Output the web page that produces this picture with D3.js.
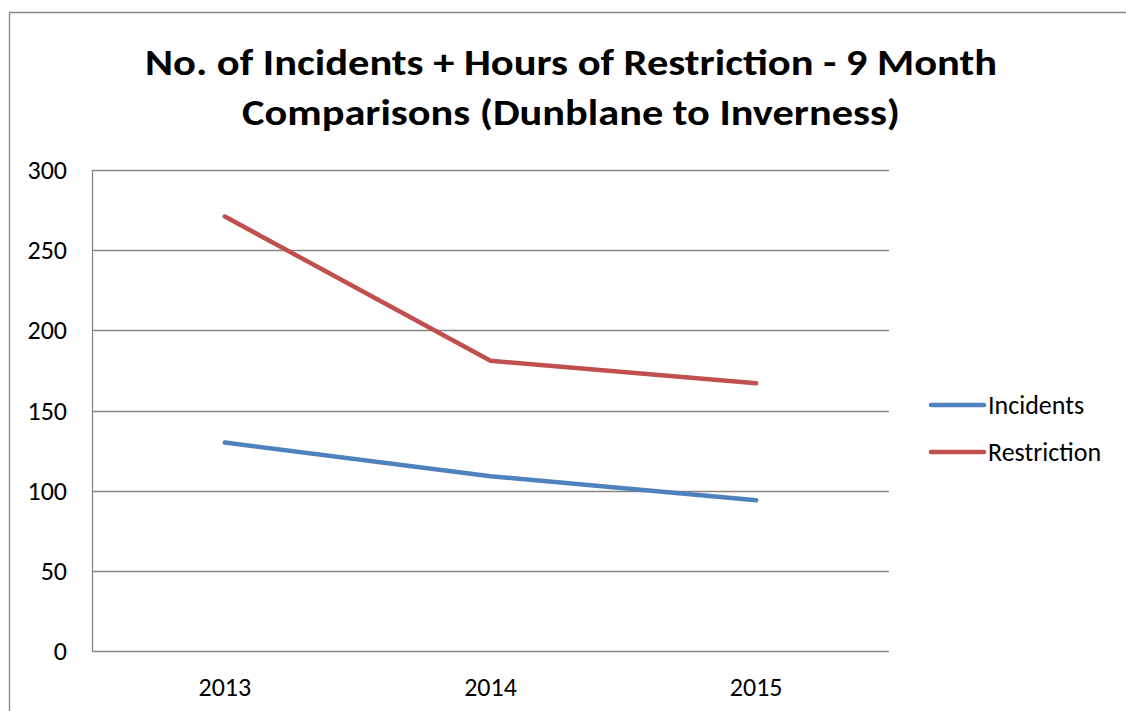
<!DOCTYPE html>
<html>
<head>
<meta charset="utf-8">
<script src="https://cdn.jsdelivr.net/npm/d3@7"></script>
<style>
  body { margin: 0; background: #fff; }
  text { font-family: Carlito, Calibri, "Liberation Sans", "DejaVu Sans", sans-serif; fill: #000; }
</style>
</head>
<body>
<svg id="chart" width="1126" height="711"></svg>
<script>
const years = ['2013', '2014', '2015'];
const incidents = [130, 109, 94];
const restriction = [271, 181, 167];
const yTicks = [0, 50, 100, 150, 200, 250, 300];
const seriesNames = ['Incidents', 'Restriction'];
const seriesColors = ['#4F81BD', '#C0504D'];
const titleLines = ['No. of Incidents + Hours of Restriction - 9 Month', 'Comparisons (Dunblane to Inverness)'];

const svg = d3.select('#chart');
const plot = { left: 92, right: 889, top: 170, bottom: 651 };
const labelSize = 26;

// outer chart frame (runs off the page right and bottom)
svg.append('path')
  .attr('d', 'M9.5,720 L9.5,12.5 L1140,12.5')
  .attr('fill', 'none')
  .attr('stroke', '#868686')
  .attr('stroke-width', 1.3);

// title
const title = svg.append('g');
const titleWidths = [852, 658];
titleLines.forEach((t, i) => {
  title.append('text')
    .attr('x', 571)
    .attr('y', 75 + i * 50)
    .attr('text-anchor', 'middle')
    .attr('font-size', 36)
    .attr('font-weight', 'bold')
    .attr('textLength', titleWidths[i])
    .attr('lengthAdjust', 'spacingAndGlyphs')
    .text(t);
});

const x = d3.scaleBand().domain(years).range([plot.left, plot.right]);
const y = d3.scaleLinear().domain([0, 300]).range([plot.bottom, plot.top]);

// gridlines
svg.append('g')
  .selectAll('line')
  .data(yTicks)
  .join('line')
  .attr('x1', plot.left)
  .attr('x2', plot.right)
  .attr('y1', d => Math.round(y(d)) + 0.5)
  .attr('y2', d => Math.round(y(d)) + 0.5)
  .attr('stroke', '#868686')
  .attr('stroke-width', 1.3);

// left axis line
svg.append('line')
  .attr('x1', plot.left + 0.5)
  .attr('x2', plot.left + 0.5)
  .attr('y1', plot.top)
  .attr('y2', plot.bottom + 1)
  .attr('stroke', '#868686')
  .attr('stroke-width', 1.3);

// y labels
svg.append('g')
  .selectAll('text')
  .data(yTicks)
  .join('text')
  .attr('x', 67)
  .attr('y', d => y(d))
  .attr('dy', '0.35em')
  .attr('text-anchor', 'end')
  .attr('font-size', labelSize)
  .text(d => d);

// x labels
svg.append('g')
  .selectAll('text')
  .data(years)
  .join('text')
  .attr('x', d => x(d) + x.bandwidth() / 2)
  .attr('y', 696)
  .attr('text-anchor', 'middle')
  .attr('font-size', labelSize)
  .text(d => d);

// series lines
const line = d3.line()
  .x((d, i) => x(years[i]) + x.bandwidth() / 2)
  .y(d => y(d));

[incidents, restriction].forEach((s, i) => {
  svg.append('path')
    .datum(s)
    .attr('d', line)
    .attr('fill', 'none')
    .attr('stroke', seriesColors[i])
    .attr('stroke-width', 4.5)
    .attr('stroke-linecap', 'round')
    .attr('stroke-linejoin', 'round');
});

// legend
const legend = svg.append('g');
seriesNames.forEach((name, i) => {
  const ly = 405 + i * 47;
  legend.append('line')
    .attr('x1', 931)
    .attr('x2', 984)
    .attr('y1', ly)
    .attr('y2', ly)
    .attr('stroke', seriesColors[i])
    .attr('stroke-width', 4.5)
    .attr('stroke-linecap', 'round');
  legend.append('text')
    .attr('x', 988)
    .attr('y', ly)
    .attr('dy', '0.35em')
    .attr('font-size', labelSize)
    .text(name);
});
</script>
</body>
</html>
